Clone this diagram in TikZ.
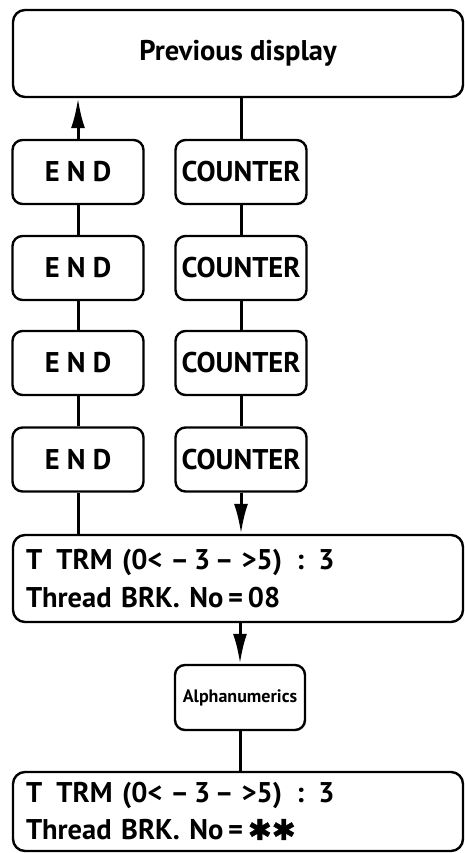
\documentclass[tikz,border=0pt]{standalone}
\usepackage{fontspec}
\setmainfont{PT Sans}
\newfontfamily\symfont{DejaVu Sans}[RawFeature={embolden=1.5}]
\usetikzlibrary{positioning,arrows.meta}
\tikzset{
  flowarrow/.style={-{Latex[length=30pt,width=14pt]}, line width=3pt},
  flowline/.style={line width=3pt},
  bigbox/.style={draw, rounded corners=12pt, line width=2.4pt, minimum width=450pt, minimum height=87pt},
  keybox/.style={draw, rounded corners=10pt, line width=2.4pt, minimum width=131pt, minimum height=64pt, inner sep=1pt, font=\bfseries\fontsize{28.5}{30}\selectfont},
  dispbox/.style={bigbox, text width=424pt, align=left, inner xsep=11pt, inner ysep=4pt, font=\bfseries\fontsize{28.5}{38}\selectfont}
}

\begin{document}
\begin{tikzpicture}[>=Latex, x=1pt, y=-1pt]
  \useasboundingbox (0,0) rectangle (465,853);
  % previous display
  \node[bigbox, font=\bfseries\fontsize{28.5}{30}\selectfont] (prev) at (238,53.5) {Previous display};
  % END / COUNTER keys
  \node[keybox] (end1) at (78,172) {E N D};
  \node[keybox] (end2) at (78,268) {E N D};
  \node[keybox] (end3) at (78,363) {E N D};
  \node[keybox] (end4) at (78,459.5) {E N D};
  \node[keybox] (cnt1) at (241,172) {COUNTER};
  \node[keybox] (cnt2) at (241,268) {COUNTER};
  \node[keybox] (cnt3) at (241,363) {COUNTER};
  \node[keybox] (cnt4) at (241,459.5) {COUNTER};
  % thread break displays
  \node[dispbox] (trm1) at (238,578.5) {T\enspace TRM (0<\;–\,3\,–\;>5)\enspace:\enspace3\\Thread BRK. No\,=\,08};
  \node[keybox, minimum width=130pt, minimum height=65pt, font=\bfseries\fontsize{18}{20}\selectfont] (alnum) at (240,697.5) {Alphanumerics};
  \node[dispbox, minimum height=79pt, font=\bfseries\fontsize{28.5}{37}\selectfont] (trm2) at (238,811.5) {T\enspace TRM (0<\;–\,3\,–\;>5)\enspace:\enspace3\\Thread BRK. No\,=\,{\symfont ✱✱}};
  % connectors
  \draw[flowarrow] (end1.north) -- (end1.north |- prev.south);
  \draw[flowline] (end1) -- (end2);
  \draw[flowline] (end2) -- (end3);
  \draw[flowline] (end3) -- (end4);
  \draw[flowline] (end4.south) -- (end4.south |- trm1.north);
  \draw[flowline] (cnt1.north |- prev.south) -- (cnt1.north);
  \draw[flowline] (cnt1) -- (cnt2);
  \draw[flowline] (cnt2) -- (cnt3);
  \draw[flowline] (cnt3) -- (cnt4);
  \draw[flowarrow] (cnt4.south) -- (cnt4.south |- trm1.north);
  \draw[flowarrow] (alnum.north |- trm1.south) -- (alnum.north);
  \draw[flowline] (alnum.south) -- (alnum.south |- trm2.north);
\end{tikzpicture}
\end{document}
